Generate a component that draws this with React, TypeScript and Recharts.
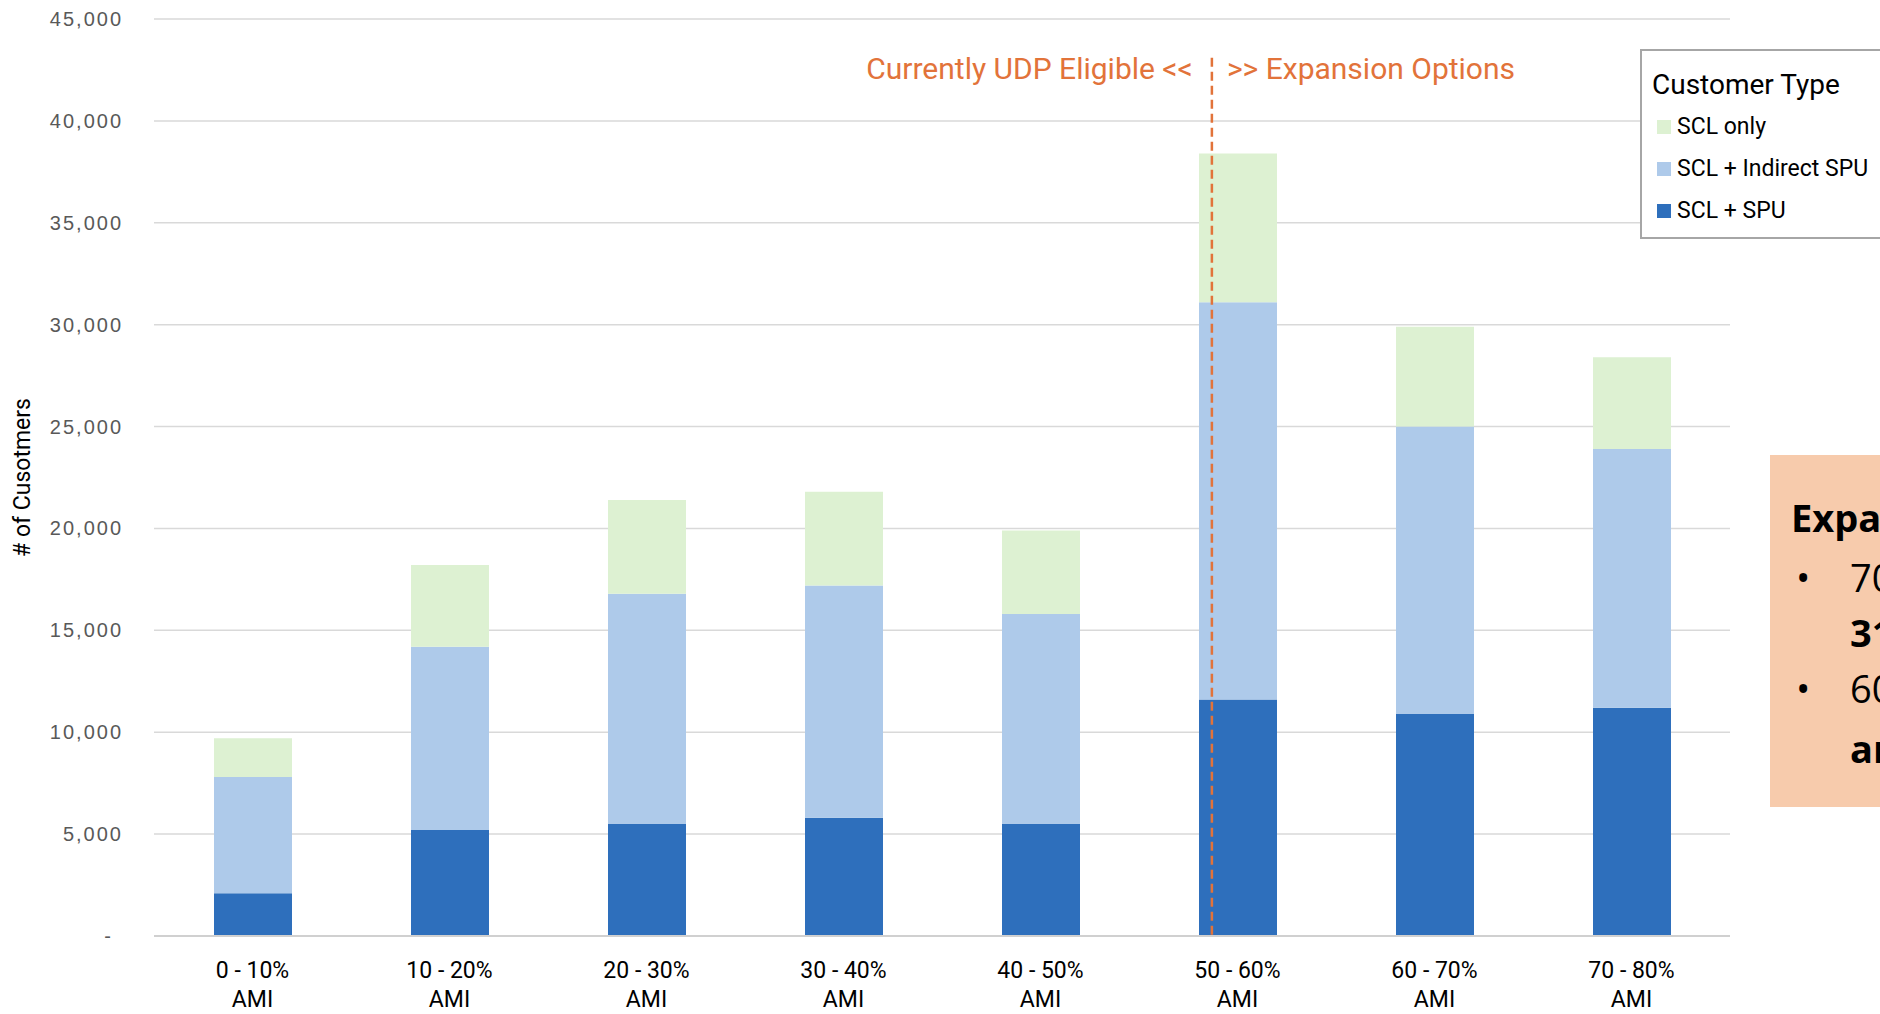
import { BarChart, Bar, XAxis, YAxis, CartesianGrid, ReferenceLine } from "recharts";

const categories = ["0 - 10%", "10 - 20%", "20 - 30%", "30 - 40%", "40 - 50%", "50 - 60%", "60 - 70%", "70 - 80%"];
const sclSpu = [2100, 5200, 5500, 5800, 5500, 11600, 10900, 11200];
const sclIndirect = [5700, 9000, 11300, 11400, 10300, 19500, 14100, 12700];
const sclOnly = [1900, 4000, 4600, 4600, 4100, 7300, 4900, 4500];
const yTicks = [0, 5000, 10000, 15000, 20000, 25000, 30000, 35000, 40000, 45000];
// where the eligibility divider sits, in category units from the left edge
const dividerPos = 5.37;

const series = [
  { key: "sclSpu", name: "SCL + SPU", color: "#2E6FBC" },
  { key: "sclIndirect", name: "SCL + Indirect SPU", color: "#AECAEA" },
  { key: "sclOnly", name: "SCL only", color: "#DDF1D2" },
];

const data = categories.map((c, i) => ({
  name: c,
  pos: i + 0.5,
  sclSpu: sclSpu[i],
  sclIndirect: sclIndirect[i],
  sclOnly: sclOnly[i],
}));

const ORANGE = "#E2733A";
const LABEL_FONT = "Roboto, 'Liberation Sans', sans-serif";

function YTick({ x, y, payload }: any) {
  const v = payload.value as number;
  return (
    <text
      x={v === 0 ? x - 10 : x}
      y={y}
      dy={7}
      textAnchor="end"
      fill="#595959"
      fontSize={20}
      letterSpacing={2}
      fontFamily="'Liberation Sans', Arial, sans-serif"
    >
      {v === 0 ? "-" : v.toLocaleString("en-US")}
    </text>
  );
}

function XTick({ x, y, payload }: any) {
  return (
    <g fontFamily={LABEL_FONT} fontSize={23} fill="#000">
      <text x={x} y={y + 34} textAnchor="middle">{payload.value}</text>
      <text x={x} y={y + 63} textAnchor="middle">AMI</text>
    </g>
  );
}

function YLabel({ viewBox }: any) {
  const cx = viewBox.x + 22;
  const cy = viewBox.y + viewBox.height / 2;
  return (
    <text
      x={cx}
      y={cy}
      transform={`rotate(-90, ${cx}, ${cy})`}
      textAnchor="middle"
      dominantBaseline="central"
      fontFamily={LABEL_FONT}
      fontSize={23}
      fill="#000"
    >
      # of Cusotmers
    </text>
  );
}

function DividerLabel({ viewBox }: any) {
  const x = viewBox.x;
  return (
    <g fontFamily={LABEL_FONT} fontSize={30} fill={ORANGE}>
      <text x={x - 19} y={79} textAnchor="end">Currently UDP Eligible &lt;&lt;</text>
      <text x={x + 15} y={79} textAnchor="start">&gt;&gt; Expansion Options</text>
    </g>
  );
}

function LegendBox() {
  const items = [...series].reverse();
  return (
    <div
      style={{
        position: "absolute",
        left: 1640,
        top: 49,
        width: 300,
        height: 186,
        border: "2px solid #A6A6A6",
        background: "#fff",
        fontFamily: LABEL_FONT,
        color: "#000",
      }}
    >
      <div style={{ position: "absolute", left: 10, top: 17, fontSize: 28 }}>Customer Type</div>
      {items.map((s, i) => (
        <div key={s.key} style={{ position: "absolute", left: 15, top: 62 + i * 42, display: "flex", alignItems: "center" }}>
          <span style={{ width: 14, height: 14, background: s.color, display: "inline-block", marginRight: 6 }} />
          <span style={{ fontSize: 23 }}>{s.name}</span>
        </div>
      ))}
    </div>
  );
}

function NoteBox() {
  const line = { position: "absolute" as const, fontSize: 38, whiteSpace: "nowrap" as const };
  return (
    <div
      style={{
        position: "absolute",
        left: 1770,
        top: 455,
        width: 300,
        height: 352,
        background: "#F7CBAC",
        fontFamily: "'Open Sans', 'Noto Sans', sans-serif",
        color: "#000",
      }}
    >
      <div style={{ ...line, left: 21, top: 36, fontWeight: 700 }}>Expa</div>
      <div style={{ ...line, left: 26, top: 96 }}>•</div>
      <div style={{ ...line, left: 80, top: 96 }}>70</div>
      <div style={{ ...line, left: 80, top: 151, fontWeight: 700 }}>31</div>
      <div style={{ ...line, left: 26, top: 207 }}>•</div>
      <div style={{ ...line, left: 80, top: 207 }}>60</div>
      <div style={{ ...line, left: 80, top: 267, fontWeight: 700 }}>an</div>
    </div>
  );
}

export default function App() {
  return (
    <div
      style={{
        position: "fixed",
        left: 0,
        top: 0,
        width: 1880,
        height: 1014,
        overflow: "hidden",
        background: "#fff",
      }}
    >
      <BarChart
        width={1880}
        height={1014}
        data={data}
        margin={{ top: 19, right: 150, left: 0, bottom: 18 }}
      >
        <CartesianGrid vertical={false} stroke="#D9D9D9" strokeWidth={1.5} />
        <XAxis
          dataKey="name"
          height={60}
          tick={<XTick />}
          tickLine={false}
          axisLine={{ stroke: "#D0D0D0", strokeWidth: 2 }}
          interval={0}
        />
        <XAxis
          xAxisId="pos"
          dataKey="pos"
          type="number"
          domain={[0, 8]}
          allowDataOverflow
          padding={{ left: 0, right: 0 }}
          hide
        />
        <YAxis
          width={154}
          domain={[0, 45000]}
          ticks={yTicks}
          tick={<YTick />}
          tickLine={false}
          axisLine={false}
          tickSize={0}
          tickMargin={31}
          label={<YLabel />}
        />
        {series.map((s) => (
          <Bar
            key={s.key}
            dataKey={s.key}
            name={s.name}
            stackId="a"
            fill={s.color}
            barSize={78}
            isAnimationActive={false}
          />
        ))}
        <ReferenceLine
          xAxisId="pos"
          segment={[
            { x: dividerPos, y: 43100 },
            { x: dividerPos, y: 0 },
          ]}
          stroke={ORANGE}
          strokeWidth={2.5}
          strokeDasharray="9 5"
          label={<DividerLabel />}
        />
      </BarChart>
      <LegendBox />
      <NoteBox />
    </div>
  );
}
